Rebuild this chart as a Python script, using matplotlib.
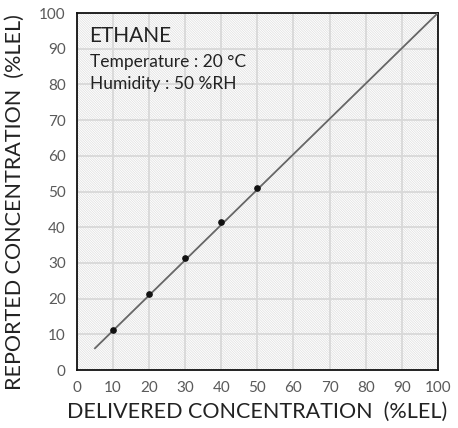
import matplotlib
matplotlib.use("Agg")
import matplotlib.pyplot as plt
from matplotlib.patches import Rectangle

# Data
delivered = [10, 20, 30, 40, 50]
reported = [11.1, 21.4, 31.4, 41.4, 51.0]
line_x = [5, 100]
line_y = [6.1, 100]
ticks = [0, 10, 20, 30, 40, 50, 60, 70, 80, 90, 100]

plt.rcParams['font.family'] = ['Lato', 'DejaVu Sans']
plt.rcParams['hatch.linewidth'] = 0.5
plt.rcParams['hatch.color'] = '#dedede'

fig = plt.figure(figsize=(4.58, 4.28), dpi=100)
ax = fig.add_axes([0.168, 0.1355, 0.788, 0.834])

ax.add_patch(Rectangle((0, 0), 1, 1, transform=ax.transAxes, facecolor='white',
                       edgecolor='#dedede', hatch='\\' * 14, linewidth=0, zorder=0))

ax.set_xlim(0, 100)
ax.set_ylim(0, 100)
ax.set_xticks(ticks)
ax.set_yticks(ticks)
ax.grid(True, color='#d8d8d8', linewidth=1.3, zorder=1)
ax.set_axisbelow(True)

ax.plot(line_x, line_y, color='#666666', linewidth=1.3, zorder=3)
ax.plot(delivered, reported, 'o', color='#111111', markersize=3.8, zorder=4)

for s in ax.spines.values():
    s.set_color('#111111')
    s.set_linewidth(1.3)

ax.tick_params(length=0, labelsize=11, labelcolor='#5a5a5a', pad=8)

ax.set_xlabel('DELIVERED CONCENTRATION  (%LEL)', fontsize=15.5, color='#222222', labelpad=5)
ax.set_ylabel('REPORTED CONCENTRATION  (%LEL)', fontsize=15.5, color='#222222', labelpad=4)
ax.yaxis.set_label_coords(-0.143, 0.47)

ax.text(0.035, 0.935, 'ETHANE', transform=ax.transAxes, fontsize=15, color='#222222', va='center')
ax.text(0.035, 0.862, 'Temperature : 20 °C', transform=ax.transAxes, fontsize=12.5, color='#222222', va='center')
ax.text(0.035, 0.80, 'Humidity : 50 %RH', transform=ax.transAxes, fontsize=12.5, color='#222222', va='center')

fig.savefig('out.png', dpi=100)
